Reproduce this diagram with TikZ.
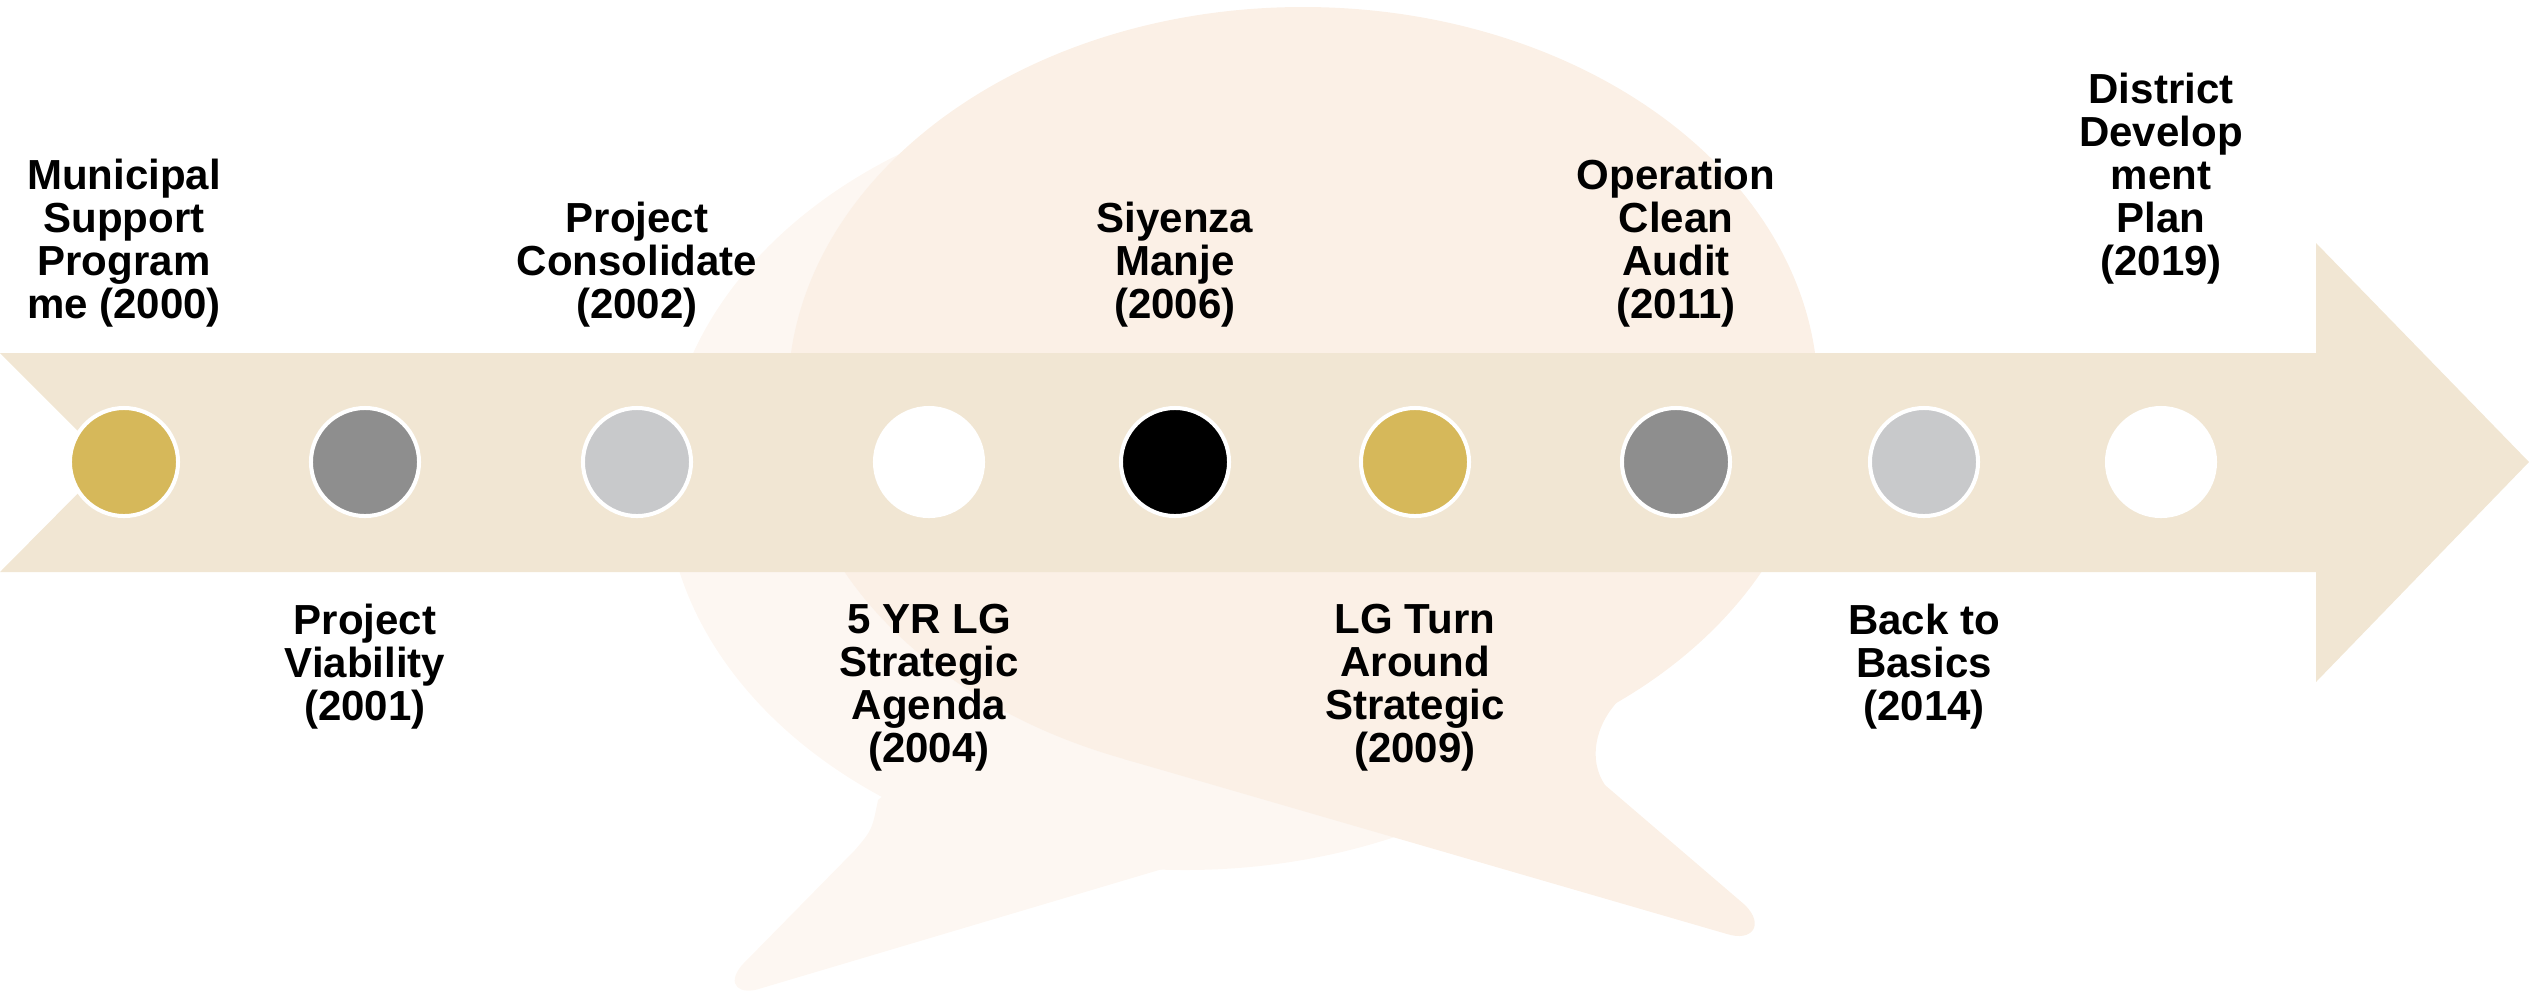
\documentclass[tikz,border=0pt]{standalone}
\usepackage{fontspec}
\setmainfont{Liberation Sans}
\usepackage{tikz}
\definecolor{band}{HTML}{F1E6D3}
\definecolor{bubbledark}{HTML}{FBF0E6}
\definecolor{bubblelight}{HTML}{FDF7F2}
\definecolor{gold}{HTML}{D6B85A}
\definecolor{midgray}{HTML}{8E8E8E}
\definecolor{palegray}{HTML}{C8C9CB}
\tikzset{
  dot/.style={circle,draw=white,line width=0.04cm,minimum size=1.08cm,inner sep=0pt},
  toplabel/.style={anchor=south,align=center,inner sep=0pt,font=\bfseries\fontsize{11.95pt}{12.25pt}\selectfont},
  botlabel/.style={toplabel,anchor=north}
}

\begin{document}
\begin{tikzpicture}[x=0.01cm,y=-0.01cm]
\useasboundingbox (0,0) rectangle (2529,990);

% speech bubbles behind
\fill[bubblelight] (1185,480) ellipse [x radius=520, y radius=390];
\fill[bubblelight] (1000,700) -- (878,800) .. controls (872,830) .. (855,850) -- (742,965)
   .. controls (725,985) and (740,996) .. (762,988) -- (1260,840) -- cycle;
\fill[bubbledark] (1303,395) ellipse [x radius=515, y radius=388];
\fill[bubbledark] (1400,650) -- (1619,700) .. controls (1595,725) and (1588,760) .. (1605,785)
   -- (1745,905) .. controls (1765,925) and (1752,942) .. (1727,934) -- (1124,759) -- cycle;

% arrow
\fill[band] (0,353) -- (2316,353) -- (2316,243) -- (2529,462) -- (2316,682) -- (2316,572) -- (0,572) -- (109,462) -- cycle;

% dots
\node[dot,fill=gold] (d2000) at (124,462) {};
\node[dot,fill=midgray] (d2001) at (365,462) {};
\node[dot,fill=palegray] (d2002) at (637,462) {};
\node[dot,fill=white] (d2004) at (929,462) {};
\node[dot,fill=black] (d2006) at (1175,462) {};
\node[dot,fill=gold] (d2009) at (1415,462) {};
\node[dot,fill=midgray] (d2011) at (1676,462) {};
\node[dot,fill=palegray] (d2014) at (1924,462) {};
\node[dot,fill=white] (d2019) at (2161,462) {};

% labels above
\node[toplabel] (l2000) at (124,328) {Municipal\\Support\\Program\\me (2000)};
\node[toplabel] (l2002) at (637,328) {Project\\Consolidate\\(2002)};
\node[toplabel] (l2006) at (1175,328) {Siyenza\\Manje\\(2006)};
\node[toplabel] (l2011) at (1676,328) {Operation\\Clean\\Audit\\(2011)};
\node[toplabel] (l2019) at (2161,285) {District\\Develop\\ment\\Plan\\(2019)};

% labels below
\node[botlabel] (l2001) at (365,603) {Project\\Viability\\(2001)};
\node[botlabel] (l2004) at (929,603) {5 YR LG\\Strategic\\Agenda\\(2004)};
\node[botlabel] (l2009) at (1415,603) {LG Turn\\Around\\Strategic\\(2009)};
\node[botlabel] (l2014) at (1924,603) {Back to\\Basics\\(2014)};

\end{tikzpicture}
\end{document}
